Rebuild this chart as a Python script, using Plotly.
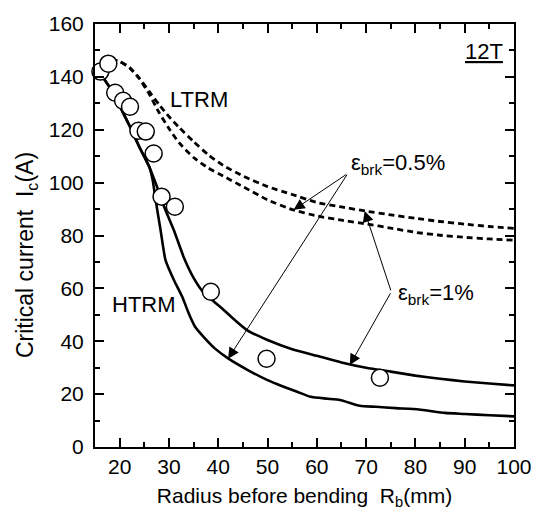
import plotly.graph_objects as go

# Measured critical current (open circles)
r_meas = [16.1, 17.7, 19.1, 20.7, 22.1, 23.8, 25.3, 26.9, 28.5, 31.2, 38.5, 49.8, 72.8]
ic_meas = [142, 145, 134, 131, 128.7, 119.6, 119.3, 111, 94.7, 90.9, 58.7, 33.4, 26.2]

# HTRM model, eps_brk = 1 %
r_htrm_1 = [16, 18, 20, 22, 24, 26, 27.5, 29, 31, 33, 35, 37, 39, 41, 43.5, 46, 50,
            55, 60, 65, 70, 75, 80, 85, 90, 95, 100]
ic_htrm_1 = [141.5, 136, 129, 121.5, 113.5, 106, 98.8, 91, 82, 71.8, 64, 58.5, 55.2, 52,
             47.8, 44, 40.5, 37, 34.5, 32, 30, 28.5, 27, 25.8, 24.8, 24, 23.3]

# HTRM model, eps_brk = 0.5 %
r_htrm_05 = [16, 18, 20, 22, 24, 26, 26.7, 27.3, 28.3, 29.3, 31, 32.7, 34, 35.3, 37.3,
             39.3, 42, 46, 50, 53, 56, 58.7, 62, 64.7, 68.7, 72, 76, 80.7, 86, 90, 95, 100]
ic_htrm_05 = [141.5, 136, 129, 121.5, 113.5, 106, 101, 93.4, 82.1, 70.7, 63.2, 56.8,
              50.6, 45.5, 41.1, 37.3, 33.5, 29.1, 25.3, 23, 20.9, 19, 18.3, 17.8, 15.6,
              15.2, 14.7, 14.2, 12.9, 12.5, 12.0, 11.6]

# LTRM model, eps_brk = 1 %
r_ltrm = [18.3, 20, 22, 24, 26, 28, 30, 32, 35, 38, 41, 45, 50, 55, 60, 65, 70, 75,
          80, 85, 90, 95, 100]
ic_ltrm_1 = [146.5, 145.8, 143.5, 139.5, 134.5, 129.5, 125, 121, 115.5, 110.5, 106.5,
             102.5, 98.5, 95.5, 92.5, 90.8, 89.2, 87.8, 86.5, 85.3, 84.3, 83.4, 82.7]
# LTRM model, eps_brk = 0.5 %
ic_ltrm_05 = [146.5, 145.8, 143.5, 139.3, 133.5, 126.5, 120.5, 115.2, 109.5, 105.5,
              102.5, 98.5, 93.5, 89.8, 87.4, 85.8, 84.4, 82.8, 81.2, 80.1, 79.3, 78.7,
              78.2]

FONT = "Liberation Sans, Arial, sans-serif"

fig = go.Figure()

line_solid = dict(color="black", width=2.6, shape="spline", smoothing=0.5)
line_dash = dict(color="black", width=2.8, dash="6px,4px", shape="spline", smoothing=0.5)

fig.add_trace(go.Scatter(x=r_ltrm, y=ic_ltrm_1, mode="lines", line=line_dash))
fig.add_trace(go.Scatter(x=r_ltrm, y=ic_ltrm_05, mode="lines", line=line_dash))
fig.add_trace(go.Scatter(x=r_htrm_1, y=ic_htrm_1, mode="lines", line=line_solid))
fig.add_trace(go.Scatter(x=r_htrm_05, y=ic_htrm_05, mode="lines", line=line_solid))
fig.add_trace(go.Scatter(
    x=r_meas, y=ic_meas, mode="markers", cliponaxis=False,
    marker=dict(symbol="circle", size=17, color="white",
                line=dict(color="black", width=1.5)),
))

# Arrows from the eps_brk labels to the curves they name
arrow_sets = [
    ((66.3, 103.5), [(55.3, 89.7), (42.0, 33.4)]),
    ((75.1, 58.7), [(69.7, 89.3), (66.7, 31.0)]),
]
for (tx, ty), tips in arrow_sets:
    for (hx, hy) in tips:
        fig.add_annotation(
            x=hx, y=hy, ax=tx, ay=ty, xref="x", yref="y", axref="x", ayref="y",
            text="", showarrow=True, arrowhead=2, arrowsize=2.2, arrowwidth=1,
            arrowcolor="black", standoff=0, startstandoff=0,
        )

labels = [
    (36.0, 131.6, "LTRM", "center"),
    (25.0, 54.0, "HTRM", "center"),
    (66.6, 107.0, "ε<sub>brk</sub>=0.5%", "left"),
    (76.0, 58.0, "ε<sub>brk</sub>=1%", "left"),
    (94.0, 149.5, "<u>12T</u>", "center"),
]
for x, y, t, anchor in labels:
    fig.add_annotation(x=x, y=y, xref="x", yref="y", text=t, showarrow=False,
                       xanchor=anchor, yanchor="middle",
                       font=dict(family=FONT, size=22, color="black"))

# y-axis title, set slightly below the axis centre
fig.add_annotation(
    x=-0.162, y=0.454, xref="paper", yref="paper",
    text="Critical current  I<sub>c</sub>(A)", textangle=-90, showarrow=False,
    xanchor="center", yanchor="middle",
    font=dict(family=FONT, size=23, color="black"),
)

axis_common = dict(
    showline=True, linecolor="black", linewidth=2, mirror="allticks",
    ticks="inside", ticklen=9, tickwidth=2, tickcolor="black",
    showgrid=False, zeroline=False,
    tickfont=dict(family=FONT, size=21, color="black"),
)

fig.update_xaxes(
    range=[15, 100], tick0=0, dtick=10,
    minor=dict(ticks="inside", ticklen=5, tickwidth=2, tickcolor="black", dtick=5, tick0=0),
    title=dict(text="Radius before bending  R<sub>b</sub>(mm)",
               font=dict(family=FONT, size=21, color="black"), standoff=11),
    **axis_common,
)
fig.update_yaxes(
    range=[0, 160], tick0=0, dtick=20, ticklabelstandoff=5,
    minor=dict(ticks="inside", ticklen=5, tickwidth=2, tickcolor="black", dtick=10, tick0=0),
    **axis_common,
)

fig.update_layout(
    width=544, height=521,
    margin=dict(l=95, r=24, t=24, b=74),
    paper_bgcolor="white", plot_bgcolor="white",
    showlegend=False,
    font=dict(family=FONT, color="black"),
)

fig.write_html("out.html")
